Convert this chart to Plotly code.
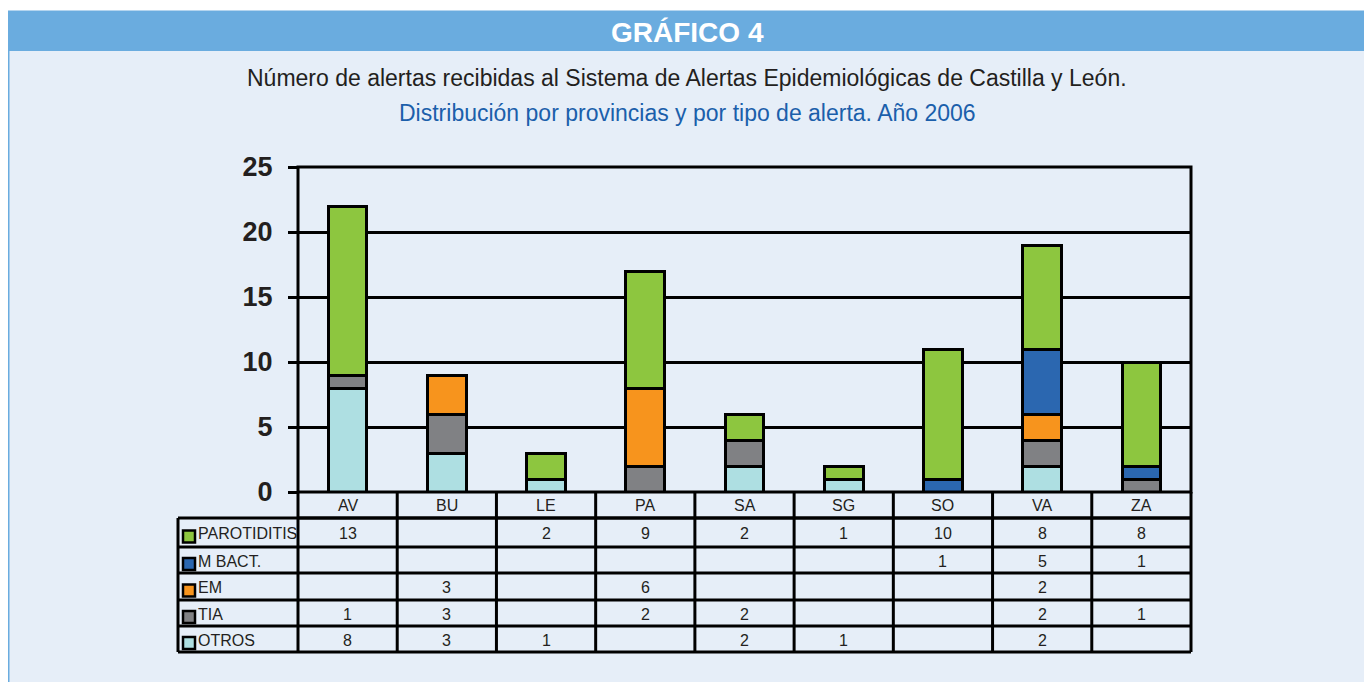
import plotly.graph_objects as go

W, H = 1372, 682

provinces = ["AV", "BU", "LE", "PA", "SA", "SG", "SO", "VA", "ZA"]
parotiditis = [13, None, 2, 9, 2, 1, 10, 8, 8]
m_bact = [None, None, None, None, None, None, 1, 5, 1]
em = [None, 3, None, 6, None, None, None, 2, None]
tia = [1, 3, None, 2, 2, None, None, 2, 1]
otros = [8, 3, 1, None, 2, 1, None, 2, None]

series_names = ["PAROTIDITIS", "M BACT.", "EM", "TIA", "OTROS"]
series_values = [parotiditis, m_bact, em, tia, otros]
series_colors = ["#8dc63f", "#2b67b0", "#f7941d", "#808184", "#aedfe2"]

y_ticks = [0, 5, 10, 15, 20, 25]

# page body margin offset (the figure div starts 8px in from the page corner)
OFF = 8


def px(x):
    return (x - OFF) / W


def py(y):
    return 1 - (y - OFF) / H


PL, PR, PT, PB = 298, 1191, 167, 492
TABLE_LEFT = 178
row_lines = [518, 547, 573, 600, 626, 652]
FONT = "Liberation Sans"

fig = go.Figure()

# stacked bars, bottom to top: OTROS, TIA, EM, M BACT., PAROTIDITIS
for name, vals, col in reversed(list(zip(series_names, series_values, series_colors))):
    fig.add_trace(go.Bar(
        x=provinces, y=[v if v is not None else 0 for v in vals], name=name,
        marker=dict(color=col, line=dict(color="black", width=3)),
        width=0.39, showlegend=False, hoverinfo="x+y+name",
    ))

shapes = []
annotations = []


def ann(text, x, y, xref="paper", size=16, color="#231f20", xanchor="center", weight="normal"):
    annotations.append(dict(text=text, xref=xref, yref="paper", x=x, y=y,
                            xanchor=xanchor, yanchor="middle", showarrow=False,
                            font=dict(size=size, color=color, family=FONT, weight=weight)))


# outer frame & header
shapes.append(dict(type="rect", xref="paper", yref="paper", x0=px(8), x1=px(1366),
                   y0=py(700), y1=py(12), fillcolor="#e6eef8",
                   line=dict(color="#6aacdf", width=3), layer="below"))
shapes.append(dict(type="rect", xref="paper", yref="paper", x0=px(8), x1=px(1366),
                   y0=py(51), y1=py(12), fillcolor="#6aacdf", line=dict(width=0), layer="below"))

ann("GRÁFICO 4", px(687), py(33), size=28, color="white", weight="bold")
ann("Número de alertas recibidas al Sistema de Alertas Epidemiológicas de Castilla y León.",
    px(687), py(78), size=23)
ann("Distribución por provincias y por tipo de alerta. Año 2006",
    px(687), py(113), size=23, color="#1b5fab")

# plot border
shapes.append(dict(type="rect", xref="paper", yref="paper", x0=px(PL), x1=px(PR),
                   y0=py(PB), y1=py(PT), line=dict(color="black", width=3), layer="above"))

# table horizontal lines
shapes.append(dict(type="line", xref="paper", yref="paper", x0=px(PL), x1=px(PR),
                   y0=py(row_lines[0]), y1=py(row_lines[0]), line=dict(color="black", width=3)))
for r in row_lines:
    shapes.append(dict(type="line", xref="paper", yref="paper", x0=px(TABLE_LEFT), x1=px(PR),
                       y0=py(r), y1=py(r), line=dict(color="black", width=3)))
# table verticals
for xv, top in [(TABLE_LEFT, row_lines[0]), (PL, PB), (PR, PB)]:
    shapes.append(dict(type="line", xref="paper", yref="paper", x0=px(xv), x1=px(xv),
                       y0=py(top), y1=py(row_lines[-1]), line=dict(color="black", width=3)))
# category separators
for i in range(1, len(provinces)):
    shapes.append(dict(type="line", xref="x", yref="paper", x0=i - 0.5, x1=i - 0.5,
                       y0=py(PB), y1=py(row_lines[-1]), line=dict(color="black", width=3)))

# category labels
for p in provinces:
    ann(p, p, py(505), xref="x")

# table rows
for k, (name, vals, col) in enumerate(zip(series_names, series_values, series_colors)):
    top, bot = row_lines[k], row_lines[k + 1]
    cy = (top + bot) / 2
    shapes.append(dict(type="rect", xref="paper", yref="paper", x0=px(183), x1=px(195),
                       y0=py(cy + 10), y1=py(cy - 2), fillcolor=col,
                       line=dict(color="black", width=2.5)))
    ann(name, px(196), py(cy + 1), xanchor="left")
    for p, v in zip(provinces, vals):
        if v is not None:
            ann(str(v), p, py(cy + 1), xref="x")

fig.update_layout(
    width=W, height=H, margin=dict(l=0, r=0, t=0, b=0, autoexpand=False),
    paper_bgcolor="white", plot_bgcolor="white",
    barmode="stack", bargap=0.6,
    xaxis=dict(domain=[px(PL), px(PR)], range=[-0.5, 8.5], showticklabels=False,
               showgrid=False, zeroline=False, ticks="", fixedrange=True, automargin=False),
    yaxis=dict(domain=[py(PB), py(PT)], range=[0, 25], tickvals=y_ticks,
               showgrid=True, gridcolor="black", gridwidth=2.5, zeroline=False,
               ticks="outside", ticklen=9, tickwidth=2.5, tickcolor="black",
               tickfont=dict(size=27, color="#231f20", family=FONT, weight="bold"),
               ticklabelstandoff=10, fixedrange=True, automargin=False),
    shapes=shapes, annotations=annotations,
    font=dict(family=FONT),
)

fig.write_html("out.html")
